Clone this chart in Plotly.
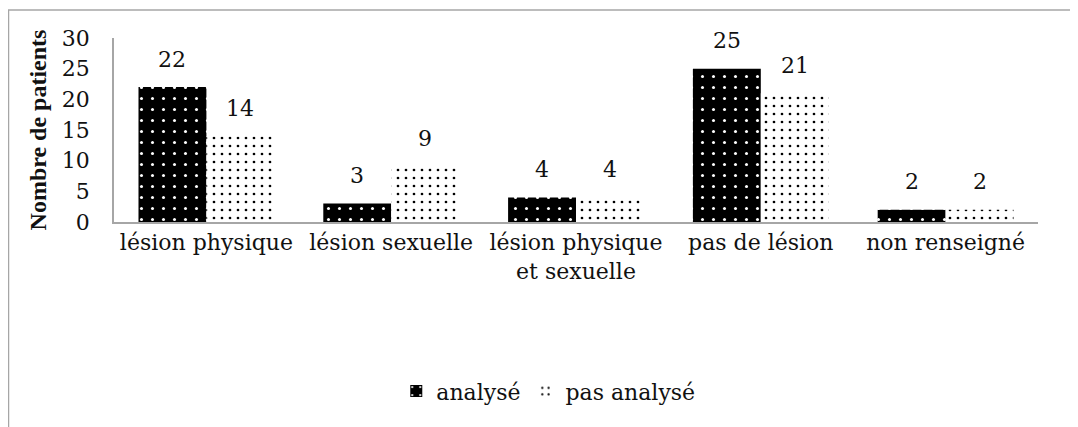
import plotly.graph_objects as go

categories = ["lésion physique", "lésion sexuelle", "lésion physique<br>et sexuelle", "pas de lésion", "non renseigné"]
analyse = [22, 3, 4, 25, 2]
pas_analyse = [14, 9, 4, 21, 2]
series_names = ["analysé", "pas analysé"]
y_ticks = [0, 5, 10, 15, 20, 25, 30]

FONT = "DejaVu Serif"
FS = 22
W, H = 1070, 419
L, R, T, B = 106, 40, 30, 205
pw = W - L - R
ph = H - T - B

fig = go.Figure()
fig.add_trace(go.Bar(
    x=categories, y=analyse, name=series_names[0],
    marker=dict(color="black", line=dict(width=0),
                pattern=dict(shape=".", fgcolor="white", bgcolor="black", fgopacity=1,
                             size=11, solidity=0.06, fillmode="replace")),
))
fig.add_trace(go.Bar(
    x=categories, y=pas_analyse, name=series_names[1],
    marker=dict(color="white", line=dict(width=0),
                pattern=dict(shape=".", fgcolor="black", bgcolor="white", fgopacity=1,
                             size=8, solidity=0.09, fillmode="replace")),
))

ann = []
for c, a, p in zip(categories, analyse, pas_analyse):
    ann.append(dict(x=c, y=a, xref="x", yref="y", text=str(a), showarrow=False, xshift=-34, yshift=28,
                    font=dict(family=FONT, size=FS, color="#111")))
    ann.append(dict(x=c, y=p, xref="x", yref="y", text=str(p), showarrow=False, xshift=34, yshift=28,
                    font=dict(family=FONT, size=FS, color="#111")))

fig.update_layout(
    width=W, height=H,
    margin=dict(l=L, r=R, t=T, b=B, autoexpand=False),
    paper_bgcolor="white", plot_bgcolor="white",
    barmode="group", bargap=0.265, bargroupgap=0,
    font=dict(family=FONT, size=FS, color="#111"),
    showlegend=True,
    legend=dict(orientation="h", x=0.47, xanchor="center", y=-0.92, yanchor="middle",
                font=dict(family=FONT, size=FS, color="#111"), itemwidth=30, traceorder="normal"),
    annotations=ann,
    shapes=[dict(type="rect", xref="paper", yref="paper",
                 x0=(0.5 - L) / pw, x1=(W + 20 - L) / pw,
                 y0=(T + ph - (H + 20)) / ph, y1=(T + ph - 2) / ph,
                 line=dict(color="#a6a6a6", width=1.5), fillcolor="rgba(0,0,0,0)", layer="below")],
)
fig.update_xaxes(showline=True, linecolor="#a6a6a6", linewidth=1.5, ticks="", showgrid=False,
                 tickfont=dict(family=FONT, size=FS, color="#111"))
fig.update_yaxes(range=[0, 30], tickvals=y_ticks, showline=True, linecolor="#a6a6a6", linewidth=1.5,
                 showgrid=False, zeroline=False, ticks="", ticklabelstandoff=18,
                 tickfont=dict(family=FONT, size=FS, color="#111"),
                 title=dict(text="<b>Nombre de patients</b>", standoff=8,
                            font=dict(family="Liberation Serif", size=24, color="#111")))

fig.write_html("out.html")
